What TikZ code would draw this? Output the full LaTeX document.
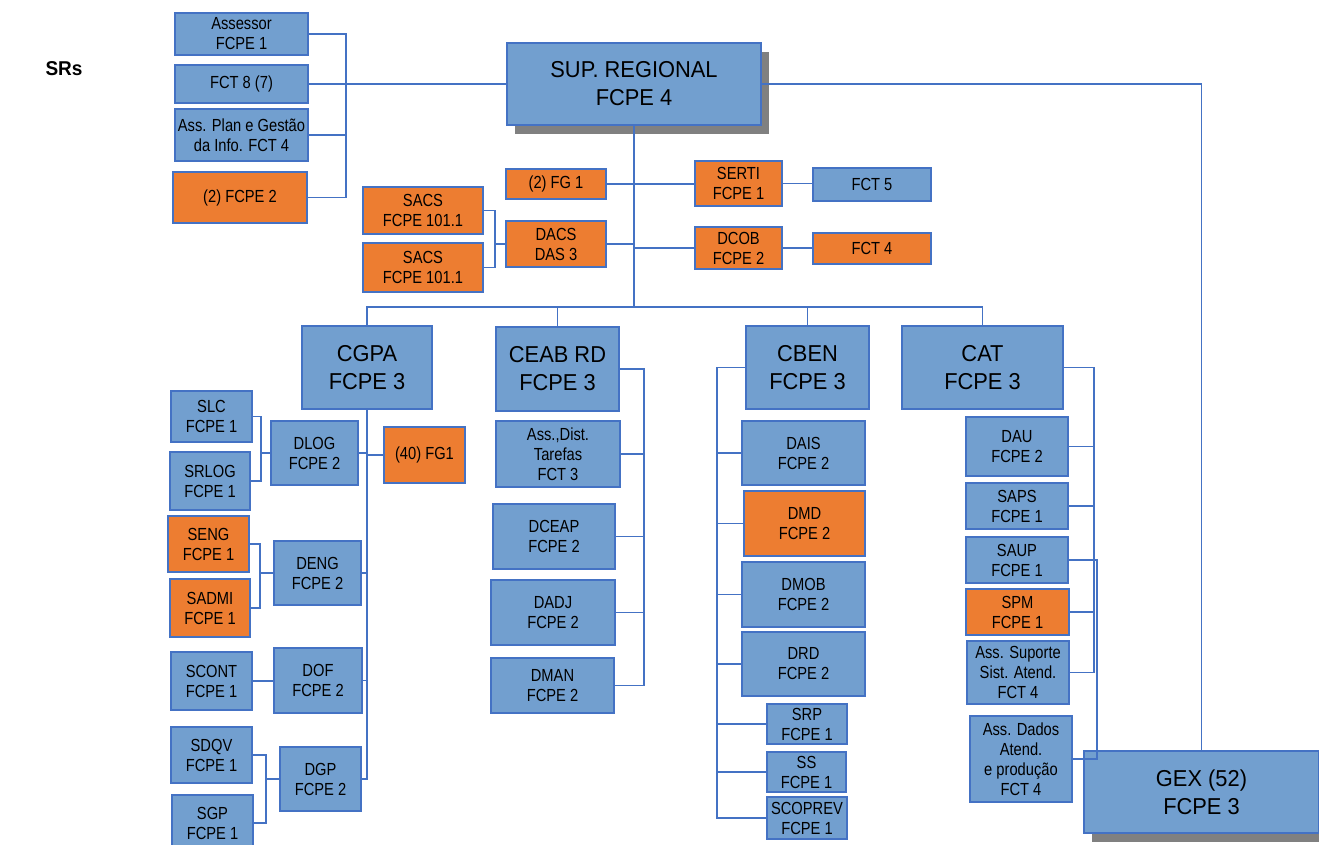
\documentclass[tikz,border=0pt]{standalone}
\usepackage{fontspec}
\setmainfont[FakeStretch=0.84]{Liberation Sans}
\newfontfamily\headfont[FakeStretch=0.95]{Liberation Sans}
\usetikzlibrary{shadows}
\definecolor{boxblue}{RGB}{114,159,207}
\definecolor{lineblue}{RGB}{68,114,196}
\definecolor{boxorange}{RGB}{237,125,49}

\begin{document}
\begin{tikzpicture}[
		x=1pt, y=-1pt,
		blue box/.style 2 args={
			draw=lineblue, line width=1.2pt, fill=boxblue,
			minimum width=#1pt, minimum height=#2pt,
			inner sep=0pt, align=center,
			font=\fontsize{17.5}{20}\selectfont
		},
		orange box/.style 2 args={blue box={#1}{#2}, fill=boxorange},
		head/.style={font=\headfont\fontsize{23}{28}\selectfont},
		shade box/.style={drop shadow={shadow xshift=8pt, shadow yshift=-9pt, fill=black!50, opacity=1}},
		link/.style={draw=lineblue, line width=1.2pt}
		]
		\fill[white] (0,0) rectangle (1319,845);
		\useasboundingbox (0,0) rectangle (1319,845);
		
		\node[font=\headfont\bfseries\fontsize{20}{24}\selectfont] (srs) at (64,69) {SRs};
		
		% superintendencia e assessorias
		\node[blue box={254}{82}, head, shade box] (sup) at (634,84) {SUP. REGIONAL\\FCPE 4};
		\node[blue box={133}{42}] (ass) at (241.5,34) {Assessor\\FCPE 1};
		\node[blue box={133}{38}] (fct8) at (241.5,84) {FCT 8 (7)};
		\node[blue box={133}{52}] (plan) at (241.5,135) {Ass. Plan e Gestão\\da Info. FCT 4};
		\node[orange box={134}{51}] (twofcpe) at (240,197.5) {(2) FCPE 2};
		
		\node[orange box={100}{30}] (fg) at (556,184) {(2) FG 1};
		\node[orange box={100}{46}] (dacs) at (556,244) {DACS\\DAS 3};
		\node[orange box={120}{47}] (sacsa) at (423,210.5) {SACS\\FCPE 101.1};
		\node[orange box={120}{49}] (sacsb) at (423,267.5) {SACS\\FCPE 101.1};
		\node[orange box={87}{45}] (serti) at (738.5,183.5) {SERTI\\FCPE 1};
		\node[orange box={87}{42}] (dcob) at (738.5,248) {DCOB\\FCPE 2};
		\node[blue box={118}{33}] (fct5) at (872,184.5) {FCT 5};
		\node[orange box={118}{31}] (fct4) at (872,248.5) {FCT 4};
		
		% CGPA
		\node[blue box={130}{83}, head] (cgpa) at (367,367.5) {CGPA\\FCPE 3};
		\node[orange box={81}{56}] (fgforty) at (424.5,455) {(40) FG1};
		\node[blue box={87}{64}] (dlog) at (314.5,453) {DLOG\\FCPE 2};
		\node[blue box={81}{51}] (slc) at (211.5,416.5) {SLC\\FCPE 1};
		\node[blue box={80}{58}] (srlog) at (210,481) {SRLOG\\FCPE 1};
		\node[blue box={87}{64}] (deng) at (317.5,573) {DENG\\FCPE 2};
		\node[orange box={81}{56}] (seng) at (208.5,544) {SENG\\FCPE 1};
		\node[orange box={80}{58}] (sadmi) at (210,608) {SADMI\\FCPE 1};
		\node[blue box={88}{65}] (dof) at (318,680.5) {DOF\\FCPE 2};
		\node[blue box={81}{58}] (scont) at (211.5,681) {SCONT\\FCPE 1};
		\node[blue box={81}{64}] (dgp) at (320.5,779) {DGP\\FCPE 2};
		\node[blue box={81}{56}] (sdqv) at (211.5,755) {SDQV\\FCPE 1};
		\node[blue box={81}{56}] (sgp) at (212.5,823) {SGP\\FCPE 1};
		
		% CEAB RD
		\node[blue box={123}{84}, head] (ceab) at (557.5,369) {CEAB RD\\FCPE 3};
		\node[blue box={124}{66}] (tarefas) at (558,454) {Ass.,Dist.\\Tarefas\\FCT 3};
		\node[blue box={122}{65}] (dceap) at (554,536.5) {DCEAP\\FCPE 2};
		\node[blue box={124}{65}] (dadj) at (553,612.5) {DADJ\\FCPE 2};
		\node[blue box={123}{55}] (dman) at (552.5,685.5) {DMAN\\FCPE 2};
		
		% CBEN
		\node[blue box={123}{83}, head] (cben) at (807.5,367.5) {CBEN\\FCPE 3};
		\node[blue box={123}{64}] (dais) at (803.5,453) {DAIS\\FCPE 2};
		\node[orange box={121}{65}] (dmd) at (804.5,523.5) {DMD\\FCPE 2};
		\node[blue box={123}{65}] (dmob) at (803.5,594.5) {DMOB\\FCPE 2};
		\node[blue box={123}{64}] (drd) at (803.5,664) {DRD\\FCPE 2};
		\node[blue box={80}{40}] (srp) at (807,724) {SRP\\FCPE 1};
		\node[blue box={79}{40}] (ss) at (806.5,772) {SS\\FCPE 1};
		\node[blue box={80}{42}] (scoprev) at (807,818) {SCOPREV\\FCPE 1};
		
		% CAT
		\node[blue box={161}{83}, head] (cat) at (982.5,367.5) {CAT\\FCPE 3};
		\node[blue box={102}{59}] (dau) at (1017,446.5) {DAU\\FCPE 2};
		\node[blue box={102}{46}] (saps) at (1017,506) {SAPS\\FCPE 1};
		\node[blue box={102}{46}] (saup) at (1017,560) {SAUP\\FCPE 1};
		\node[orange box={103}{46}] (spm) at (1017.5,612) {SPM\\FCPE 1};
		\node[blue box={102}{63}] (suporte) at (1018,672.5) {Ass. Suporte\\Sist. Atend.\\FCT 4};
		\node[blue box={102}{86}] (dados) at (1021,759) {Ass. Dados\\Atend.\\e produção\\FCT 4};
		
		\node[blue box={235}{82}, head, shade box] (gex) at (1201.5,792) {GEX (52)\\FCPE 3};
		
		% ligacoes do topo
		\coordinate (leftbus) at (346,84);
		\draw[link] (fct8) -- (sup);
		\draw[link] (ass.east) -| (leftbus);
		\draw[link] (plan.east) -| (leftbus);
		\draw[link] (twofcpe.east) -| (leftbus);
		\draw[link] (sup.east) -| (gex.north);
		
		\coordinate (bus) at (634,307);
		\draw[link] (sup.south) -- (bus);
		\foreach \n in {cgpa,ceab,cben,cat}
			\draw[link] (\n.north) |- (bus);
		\draw[link] (fg.east) -- (fg.east -| serti.west);
		\draw[link] (dacs.east) -- (dacs.east -| bus);
		\draw[link] (dcob.west) -- (dcob.west -| bus);
		\draw[link] (serti.east) -- (serti.east -| fct5.west);
		\draw[link] (dcob.east) -- (dcob.east -| fct4.west);
		\coordinate (sacsbus) at (495,244);
		\draw[link] (sacsa.east) -| (sacsbus);
		\draw[link] (sacsb.east) -| (sacsbus);
		\draw[link] (dacs.west) -- (sacsbus);
		
		% CGPA
		\draw[link] (cgpa.south) |- (dgp.east);
		\foreach \n in {dlog,deng,dof,fgforty}
			\draw[link] (\n) -- (\n -| cgpa.south);
		\coordinate (logbus) at (261,453);
		\draw[link] (slc.east) -| (logbus);
		\draw[link] (srlog.east) -| (logbus);
		\draw[link] (dlog.west) -- (logbus);
		\coordinate (engbus) at (260,573);
		\draw[link] (seng.east) -| (engbus);
		\draw[link] (sadmi.east) -| (engbus);
		\draw[link] (deng.west) -- (engbus);
		\draw[link] (scont.east) -- (scont.east -| dof.west);
		\coordinate (gpbus) at (266,779);
		\draw[link] (sdqv.east) -| (gpbus);
		\draw[link] (sgp.east) -| (gpbus);
		\draw[link] (dgp.west) -- (gpbus);
		
		% CEAB RD
		\coordinate (ceabbus) at (644,369);
		\draw[link] (ceab.east) -- (ceabbus) |- (dman.east);
		\foreach \n in {tarefas,dceap,dadj}
			\draw[link] (\n.east) -- (\n.east -| ceabbus);
		
		% CBEN
		\coordinate (cbenbus) at (717,367.5);
		\draw[link] (cben.west) -- (cbenbus) |- (scoprev.west);
		\foreach \n in {dais,dmd,dmob,drd,srp,ss}
			\draw[link] (\n.west) -- (\n.west -| cbenbus);
		
		% CAT
		\coordinate (catbus) at (1094,367.5);
		\draw[link] (cat.east) -- (catbus) |- (suporte.east);
		\foreach \n in {dau,saps,spm}
			\draw[link] (\n.east) -- (\n.east -| catbus);
		\coordinate (dadosbus) at (1097,560);
		\draw[link] (saup.east) -- (dadosbus) |- (dados.east);
		
	\end{tikzpicture}
\end{document}
